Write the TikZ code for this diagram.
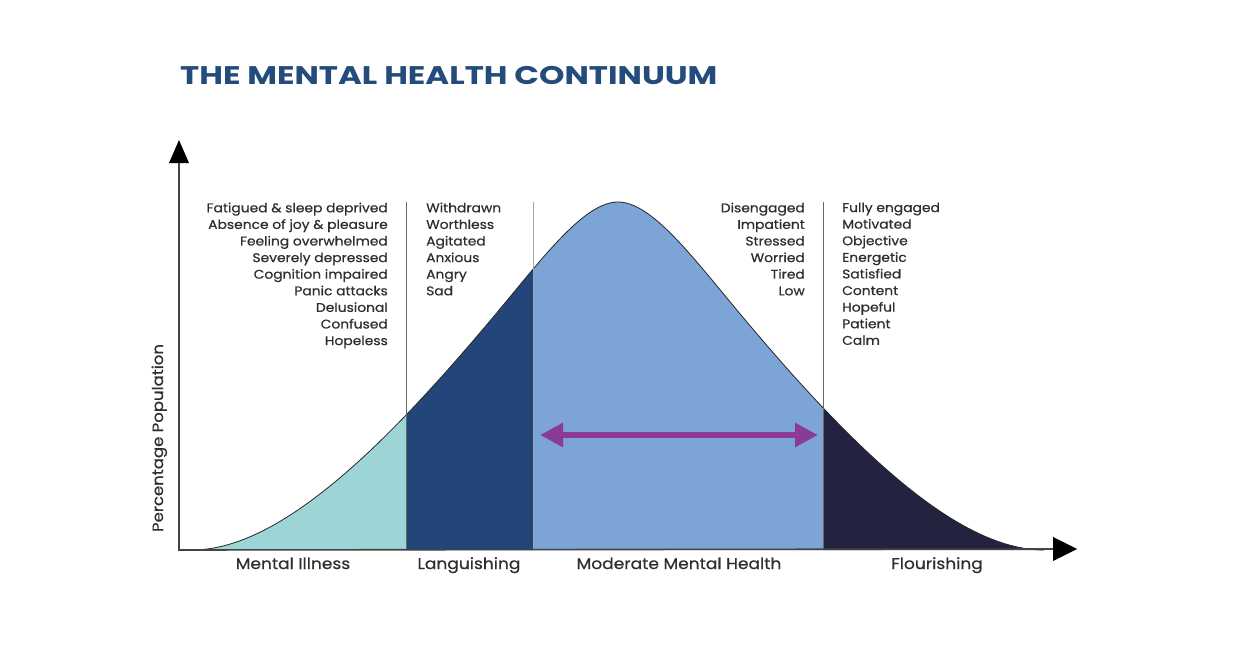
\documentclass[tikz,border=0pt]{standalone}
\usepackage{fontspec}
\setmainfont{Poppins}
\newfontfamily\bodyfont[FakeStretch=1.1, FakeBold=0.6]{Poppins}
\newfontfamily\titlefont[FakeStretch=1.27]{Poppins}
\usetikzlibrary{arrows.meta}
\definecolor{titleblue}{HTML}{234B7B}
\definecolor{txtgray}{HTML}{2E2E2E}
\definecolor{teal}{HTML}{9DD5D6}
\definecolor{lang}{HTML}{23467A}
\definecolor{modblue}{HTML}{7DA4D7}
\definecolor{flour}{HTML}{23233F}
\definecolor{arrowpurple}{HTML}{8C3B93}
\definecolor{axisgray}{HTML}{444444}
\begin{document}
\begin{tikzpicture}[x=1pt,y=-1pt,
  wordlist/.style={inner sep=0pt, font=\bodyfont\fontsize{12.6}{16.6}\selectfont, text=txtgray},
  bandlabel/.style={inner sep=0pt, anchor=base, font=\bodyfont\fontsize{15.5}{18}\selectfont, text=txtgray},
  divider/.style={draw=gray!80!black, line width=0.9pt},
  axisline/.style={draw=axisgray, line width=1.6pt},
  axishead/.style={fill=black, draw=none},
]
\useasboundingbox (0,0) rectangle (1242,650);
\fill[white] (0,0) rectangle (1242,650);
\def\curve{(192,550) .. controls (282,550) and (390,441) .. (500,309) .. controls (545,255) and (585,202) .. (618,202) .. controls (651,202) and (691,255) .. (736,309) .. controls (846,441) and (954,550) .. (1044,550)}
% bands
\begin{scope}\clip (150,150) rectangle (406,552);
\fill[teal] \curve -- cycle;\end{scope}
\begin{scope}\clip (406,150) rectangle (533,552);
\fill[lang] \curve -- cycle;\end{scope}
\begin{scope}\clip (533,150) rectangle (823,552);
\fill[modblue] \curve -- cycle;\end{scope}
\begin{scope}\clip (823,150) rectangle (1100,552);
\fill[flour] \curve -- cycle;\end{scope}
\draw[line width=0.8pt, draw=black!85] \curve;
% dividers
\coordinate (d1t) at (406,202); \coordinate (d1b) at (406,550);
\coordinate (d2t) at (533,202); \coordinate (d2b) at (533,550);
\coordinate (d3t) at (823,202); \coordinate (d3b) at (823,550);
\draw[divider] (d1t) -- (d1b);
\draw[divider, draw=gray!70] (d2t) -- (d2b);
\draw[divider] (d3t) -- (d3b);
% axes
\coordinate (origin) at (179,550);
\coordinate (ytop) at (179,162);
\coordinate (xend) at (1054,549);
\draw[axisline] (ytop) -- (origin) -- (xend);
\fill[axishead] (179,140) -- (169,163) -- (189,163) -- cycle;
\fill[axishead] (1077,549) -- (1053,537) -- (1053,561) -- cycle;
% purple arrow
\coordinate (pa) at (540,435); \coordinate (pb) at (818,435);
\draw[arrowpurple, line width=6pt, {Triangle[length=23pt,width=23pt]}-{Triangle[length=23pt,width=23pt]}] (pa) -- (pb);
% title
\node[inner sep=0pt, anchor=base west, text=titleblue, font=\titlefont\fontsize{25.5}{30}\selectfont\bfseries] (title) at (180,85) {THE MENTAL HEALTH CONTINUUM};
% y label
\node[inner sep=0pt, rotate=90, anchor=base, font=\bodyfont\fontsize{15}{16}\selectfont, text=txtgray] (ylab) at (163,438) {Percentage Population};
% word lists
\node[wordlist, anchor=north east, align=right] (illlist) at (388,202.5) {Fatigued \& sleep deprived\\Absence of joy \& pleasure\\Feeling overwhelmed\\Severely depressed\\Cognition impaired\\Panic attacks\\Delusional\\Confused\\Hopeless};
\node[wordlist, anchor=north west, align=left] (langlist) at (426,202.5) {Withdrawn\\Worthless\\Agitated\\Anxious\\Angry\\Sad};
\node[wordlist, anchor=north east, align=right] (modlist) at (805,202.5) {Disengaged\\Impatient\\Stressed\\Worried\\Tired\\Low};
\node[wordlist, anchor=north west, align=left] (flourlist) at (842,202.5) {Fully engaged\\Motivated\\Objective\\Energetic\\Satisfied\\Content\\Hopeful\\Patient\\Calm};
% band labels
\node[bandlabel] (l1) at (293,569) {Mental Illness};
\node[bandlabel] (l2) at (469,569) {Languishing};
\node[bandlabel] (l3) at (679,569) {Moderate Mental Health};
\node[bandlabel] (l4) at (937,569) {Flourishing};
\end{tikzpicture}
\end{document}
